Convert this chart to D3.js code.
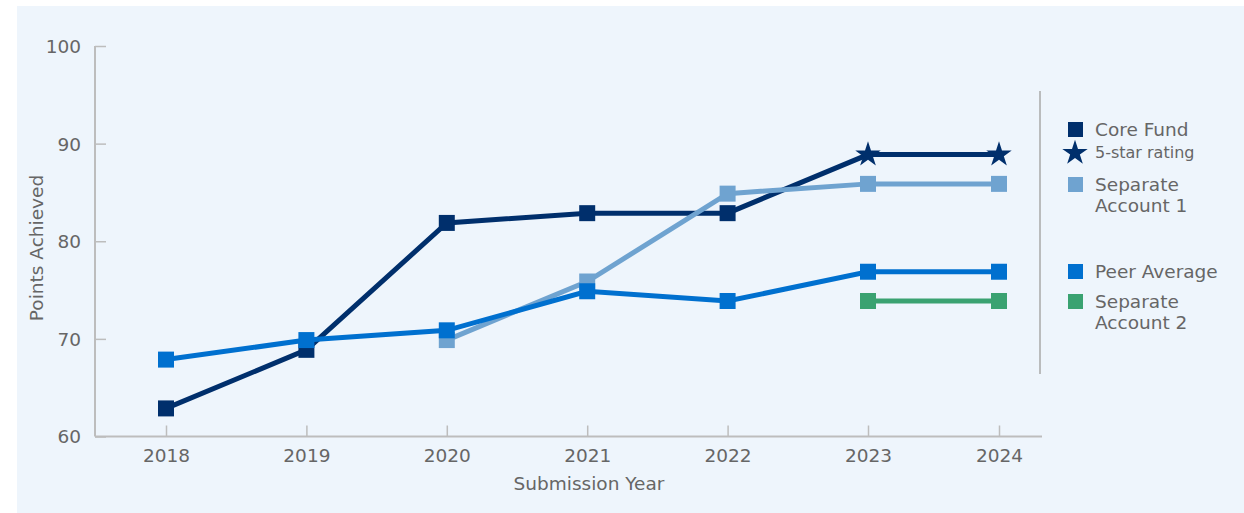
<!DOCTYPE html>
<html>
<head>
<meta charset="utf-8">
<script src="https://cdn.jsdelivr.net/npm/d3@7"></script>
<style>
    body { margin: 0; background: #fff; }
    svg { display: block; font-family: "DejaVu Sans", Verdana, sans-serif; }
</style>
</head>
<body>
<script>
"use strict";
(function(){
    // data
    const years = [2018, 2019, 2020, 2021, 2022, 2023, 2024]
    const coreFund = [63, 69, 82, 83, 83, 89, 89]
    const coreStars = [false, false, false, false, false, true, true]
    const sepAccount1 = [null, null, 70, 76, 85, 86, 86]
    const peerAverage = [68, 70, 71, 75, 74, 77, 77]
    const sepAccount2 = [null, null, null, null, null, 74, 74]
    const yTicks = [60, 70, 80, 90, 100]

    const measurements = {
        width: 1244,
        height: 513
    }

    const colors = {
        core: "#002F6C",
        sep1: "#6FA3D0",
        peer: "#0070CF",
        sep2: "#3AA271",
        axis: "#BDBDBD",
        text: "#666666"
    }

    const svg = d3.select("body").append("svg")
        .attr("width", measurements.width)
        .attr("height", measurements.height)

    // light panel behind the chart
    svg.append("rect")
        .attr("x", 17)
        .attr("y", 6)
        .attr("width", measurements.width - 17)
        .attr("height", measurements.height - 6)
        .attr("fill", "#EEF5FC")

    // x positions: last year sits a little closer in the original
    const scaleX = d3.scaleLinear()
        .domain([2018, 2023, 2024])
        .range([166, 868, 999])

    const scaleY = d3.scaleLinear()
        .domain([60, 100])
        .range([436.5, 46])

    drawAxes()
    // series sit about a pixel low in the original
    const plot = svg.append("g").attr("transform", "translate(0,1.2)")
    drawSeries(coreFund, colors.core, coreStars)
    drawSeries(sepAccount1, colors.sep1)
    drawSeries(peerAverage, colors.peer)
    drawSeries(sepAccount2, colors.sep2)
    drawLegend()

    function drawAxes() {
        let yAxis = d3.axisRight(scaleY)
            .tickValues(yTicks)
            .tickSize(11)
            .tickFormat(d3.format("d"))

        let gy = svg.append("g")
            .attr("transform", "translate(95,0)")
            .call(yAxis)
        gy.select(".domain").attr("stroke", colors.axis).attr("stroke-width", 2)
            .attr("d", "M0," + scaleY(100) + "V" + scaleY(60))
        gy.selectAll(".tick line").attr("stroke", colors.axis).attr("stroke-width", 1.5)
        gy.selectAll(".tick text")
            .attr("x", -14)
            .attr("dy", "0.35em")
            .attr("text-anchor", "end")
            .attr("fill", colors.text)
            .attr("font-size", 18.5)
            .attr("font-family", "DejaVu Sans")

        let xAxis = d3.axisTop(scaleX)
            .tickValues(years)
            .tickSize(11)
            .tickFormat(d3.format("d"))

        let gx = svg.append("g")
            .attr("transform", "translate(0,436.5)")
            .call(xAxis)
        gx.select(".domain").attr("stroke", colors.axis).attr("stroke-width", 2)
            .attr("d", "M95,0H1042")
        gx.selectAll(".tick line").attr("stroke", colors.axis).attr("stroke-width", 1.5)
        gx.selectAll(".tick text")
            .attr("y", 25)
            .attr("dy", 0)
            .attr("fill", colors.text)
            .attr("font-size", 18.5)
            .attr("font-family", "DejaVu Sans")

        svg.append("text")
            .attr("text-anchor", "middle")
            .attr("x", 589)
            .attr("y", 490)
            .attr("font-size", 18.5)
            .attr("fill", colors.text)
            .text("Submission Year")

        svg.append("text")
            .attr("text-anchor", "middle")
            .attr("transform", "translate(43,248) rotate(-90)")
            .attr("font-size", 18.5)
            .attr("fill", colors.text)
            .text("Points Achieved")
    }

    function drawSeries(values, color, stars) {
        const pts = years.map((y, i) => ({ year: y, value: values[i], star: stars ? stars[i] : false }))
            .filter(d => d.value !== null)

        const line = d3.line()
            .x(d => scaleX(d.year))
            .y(d => scaleY(d.value))

        plot.append("path")
            .datum(pts)
            .attr("fill", "none")
            .attr("stroke", color)
            .attr("stroke-width", 5)
            .attr("d", line)

        const starSym = d3.symbol().type(d3.symbolStar).size(200)

        plot.selectAll(null)
            .data(pts)
            .enter()
            .append("path")
            .attr("transform", d => "translate(" + scaleX(d.year) + "," + scaleY(d.value) + ")")
            .attr("fill", color)
            .attr("d", d => d.star ? starSym() : "M-8,-8H8V8H-8Z")
    }

    function drawLegend() {
        svg.append("line")
            .attr("x1", 1040).attr("x2", 1040)
            .attr("y1", 91).attr("y2", 374)
            .attr("stroke", "#A8A8A8")
            .attr("stroke-width", 1.5)

        const items = [
            { color: colors.core, lines: ["Core Fund"], y: 129 },
            { color: colors.sep1, lines: ["Separate", "Account 1"], y: 184 },
            { color: colors.peer, lines: ["Peer Average"], y: 271 },
            { color: colors.sep2, lines: ["Separate", "Account 2"], y: 301 }
        ]

        items.forEach(function(it) {
            svg.append("rect")
                .attr("x", 1068)
                .attr("y", it.y - 7)
                .attr("width", 15)
                .attr("height", 15)
                .attr("fill", it.color)
            it.lines.forEach(function(t, j) {
                svg.append("text")
                    .attr("x", 1095)
                    .attr("y", it.y + 7 + j * 21)
                    .attr("font-size", 18.5)
                    .attr("fill", colors.text)
                    .text(t)
            })
        })

        svg.append("path")
            .attr("transform", "translate(1075,153)")
            .attr("fill", colors.core)
            .attr("d", d3.symbol().type(d3.symbolStar).size(200)())
        svg.append("text")
            .attr("x", 1095)
            .attr("y", 158)
            .attr("font-size", 16)
            .attr("fill", colors.text)
            .text("5-star rating")
    }
})()
</script>
</body>
</html>
